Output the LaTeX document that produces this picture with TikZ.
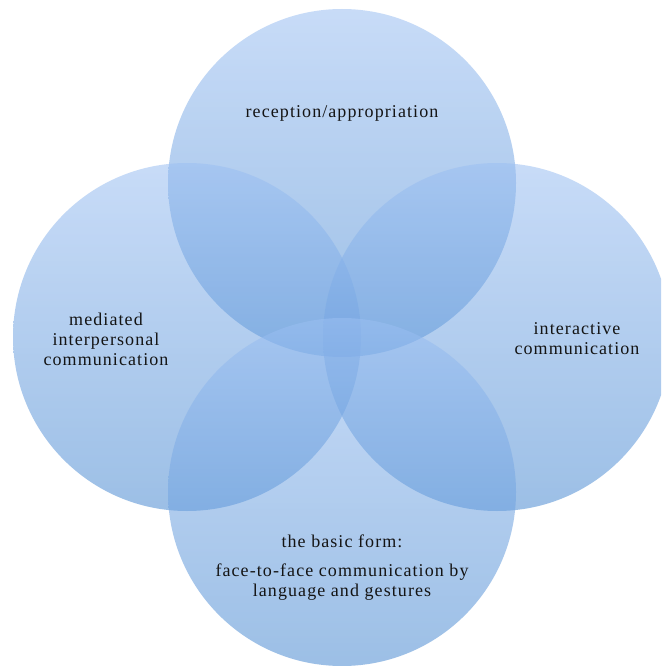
\documentclass[tikz,border=0pt]{standalone}
\usepackage{fontspec}
\setmainfont{Liberation Serif}[LetterSpace=6]
\usepackage{tikz}

\definecolor{bubbletop}{RGB}{155,191,242}
\definecolor{bubblebot}{RGB}{75,139,210}
\definecolor{labeltext}{RGB}{20,20,20}

\tikzset{
    bubble/.style={circle, minimum size=348pt, inner sep=0pt, draw=none,
        top color=bubbletop, bottom color=bubblebot, fill opacity=0.55},
    label/.style={align=center, text=labeltext, font=\fontsize{18}{20}\selectfont}
}

\begin{document}
\begin{tikzpicture}[x=1pt, y=-1pt]
        \useasboundingbox (0, 0) rectangle (661, 666);
        \clip (0, 0) rectangle (661, 666);
        \fill[white] (0, 0) rectangle (661, 666);

        \coordinate (T) at (342, 183);
        \coordinate (L) at (187, 337);
        \coordinate (R) at (497, 337);
        \coordinate (B) at (342, 492);

        \node[bubble] (top) at (T) {};
        \node[bubble] (left) at (L) {};
        \node[bubble] (right) at (R) {};
        \node[bubble] (bottom) at (B) {};

        \node[label] (reception) at (342, 113) {reception/appropriation};
        \node[label] (mediated) at (106, 339) {mediated\\interpersonal\\communication};
        \node[label] (interactive) at (577, 339) {interactive\\communication};
        \node[label] (basic) at (342, 541) {the basic form:};
        \node[label] (face) at (342, 582) {face-to-face communication by\\language and gestures};

    \end{tikzpicture}
\end{document}
